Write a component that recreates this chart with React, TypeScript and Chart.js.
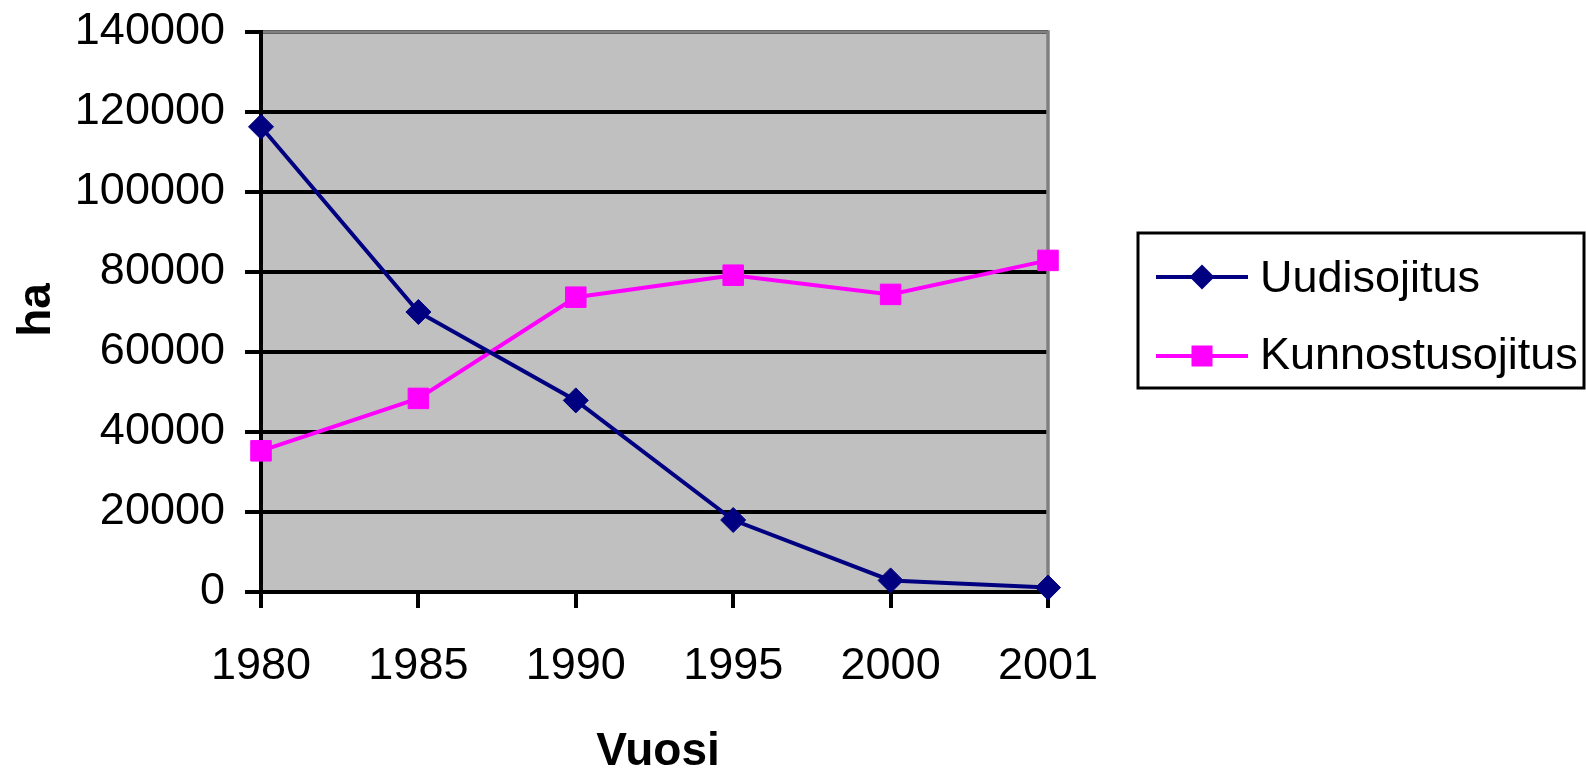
import React, { useEffect, useRef } from "react";
import { Chart, registerables } from "chart.js";

Chart.register(...registerables);

const years = ["1980", "1985", "1990", "1995", "2000", "2001"];
const uudisojitus = [116300, 70000, 47900, 18000, 2900, 1100];
const kunnostusojitus = [35300, 48400, 73700, 79200, 74400, 82900];
const seriesNames = ["Uudisojitus", "Kunnostusojitus"];
const yTitle = "ha";
const xTitle = "Vuosi";

const FONT = "'Liberation Sans', Arial, sans-serif";

const decorPlugin = {
  id: "decor",
  beforeDraw(chart: any) {
    const { ctx, chartArea } = chart;
    ctx.save();
    ctx.fillStyle = "#ffffff";
    ctx.fillRect(0, 0, chart.width, chart.height);
    ctx.fillStyle = "#C0C0C0";
    ctx.fillRect(chartArea.left, chartArea.top, chartArea.right - chartArea.left, chartArea.bottom - chartArea.top);
    ctx.restore();
  },
  beforeDatasetsDraw(chart: any) {
    const { ctx, chartArea } = chart;
    ctx.save();
    ctx.strokeStyle = "#808080";
    ctx.lineWidth = 3.5;
    ctx.beginPath();
    ctx.moveTo(chartArea.left + 2, chartArea.top);
    ctx.lineTo(chartArea.right, chartArea.top);
    ctx.lineTo(chartArea.right, chartArea.bottom - 2);
    ctx.stroke();
    ctx.restore();
  },
  afterDraw(chart: any) {
    const { ctx } = chart;
    ctx.save();
    ctx.fillStyle = "#000";
    ctx.font = `bold 46px ${FONT}`;
    ctx.textAlign = "center";
    ctx.textBaseline = "alphabetic";
    ctx.fillText(xTitle, 658, 765);
    ctx.save();
    ctx.translate(50, 310);
    ctx.rotate(-Math.PI / 2);
    ctx.fillText(yTitle, 0, 0);
    ctx.restore();

    ctx.strokeStyle = "#000";
    ctx.lineWidth = 3;
    ctx.strokeRect(1138, 233, 446, 155);
    const rows = [
      { y: 277, base: 292 },
      { y: 356, base: 369 },
    ];
    chart.data.datasets.forEach((ds: any, i: number) => {
      const r = rows[i];
      ctx.strokeStyle = ds.borderColor;
      ctx.lineWidth = 4;
      ctx.beginPath();
      ctx.moveTo(1156, r.y);
      ctx.lineTo(1248, r.y);
      ctx.stroke();
      ctx.fillStyle = ds.pointBackgroundColor;
      const cx = 1202;
      ctx.beginPath();
      if (ds.pointStyle === "rectRot") {
        ctx.moveTo(cx - 12.5, r.y);
        ctx.lineTo(cx, r.y - 12.5);
        ctx.lineTo(cx + 12.5, r.y);
        ctx.lineTo(cx, r.y + 12.5);
        ctx.closePath();
      } else {
        ctx.rect(cx - 10.5, r.y - 10.5, 21, 21);
      }
      ctx.fill();
      ctx.fillStyle = "#000";
      ctx.font = `45px ${FONT}`;
      ctx.textAlign = "left";
      ctx.textBaseline = "alphabetic";
      ctx.fillText(ds.label, 1260, r.base);
    });
    ctx.restore();
  },
};

export default function App() {
  const ref = useRef<HTMLCanvasElement | null>(null);
  useEffect(() => {
    document.body.style.margin = "0";
    const canvas = ref.current;
    if (!canvas) return;
    const chart = new Chart(canvas, {
      type: "line",
      data: {
        labels: years,
        datasets: [
          {
            label: seriesNames[0],
            data: uudisojitus,
            borderColor: "#000080",
            backgroundColor: "#000080",
            pointBackgroundColor: "#000080",
            pointBorderColor: "#000080",
            pointStyle: "rectRot",
            pointRadius: 12.5,
            pointBorderWidth: 1,
            borderWidth: 4,
            tension: 0,
            clip: false,
          } as any,
          {
            label: seriesNames[1],
            data: kunnostusojitus,
            borderColor: "#FF00FF",
            backgroundColor: "#FF00FF",
            pointBackgroundColor: "#FF00FF",
            pointBorderColor: "#FF00FF",
            pointStyle: "rect",
            pointRadius: 14.5,
            pointBorderWidth: 1,
            borderWidth: 4,
            tension: 0,
            clip: false,
          } as any,
        ],
      },
      options: {
        animation: false,
        responsive: false,
        maintainAspectRatio: false,
        devicePixelRatio: 1,
        layout: { padding: { left: 0, top: 32, right: 538, bottom: 0 } },
        plugins: {
          legend: { display: false },
          tooltip: { enabled: false },
          title: { display: false },
        },
        scales: {
          x: {
            type: "category",
            offset: false,
            afterFit(scale: any) {
              scale.height = 179;
              scale.paddingLeft = 0;
              scale.paddingRight = 0;
            },
            grid: {
              drawOnChartArea: false,
              drawTicks: true,
              tickLength: 16,
              color: "#000",
              lineWidth: 4,
            },
            border: { display: true, color: "#000", width: 4 },
            ticks: {
              color: "#000",
              font: { family: FONT, size: 45 },
              padding: 32,
              maxRotation: 0,
              autoSkip: false,
            },
          },
          y: {
            min: 0,
            max: 140000,
            afterFit(scale: any) {
              scale.width = 261;
              scale.paddingTop = 0;
              scale.paddingBottom = 0;
            },
            grid: {
              color: "#000",
              lineWidth: 4,
              drawTicks: true,
              tickLength: 16,
            },
            border: { display: true, color: "#000", width: 4 },
            ticks: {
              stepSize: 20000,
              color: "#000",
              font: { family: FONT, size: 45 },
              padding: 20,
              callback: (v: any) => String(v),
            },
          },
        },
      },
      plugins: [decorPlugin],
    } as any);
    return () => chart.destroy();
  }, []);
  return (
    <div style={{ position: "absolute", left: 0, top: 0, width: 1586, height: 771 }}>
      <canvas ref={ref} width={1586} height={771} style={{ width: 1586, height: 771 }} />
    </div>
  );
}
